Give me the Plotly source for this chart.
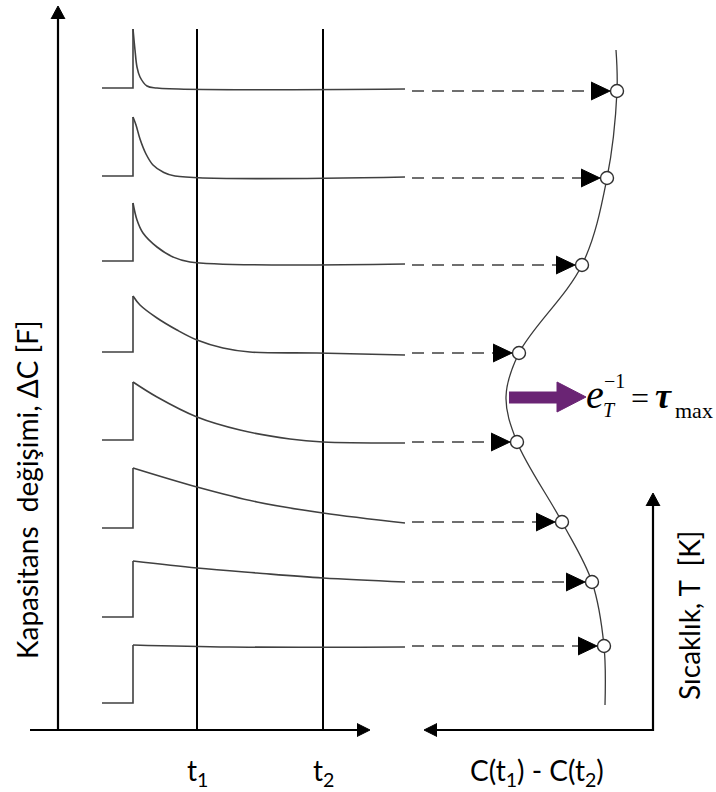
import plotly.graph_objects as go

# ---------------- data (canvas units) ----------------
baselines = [88, 176, 261, 352, 440, 528, 617, 703]      # pre-pulse level of each transient
pulse_start = 102
pulse_time = 133
decay_t = [
    [133, 135, 137, 140, 147, 157, 405],
    [133, 136, 140, 146, 153, 163, 175, 405],
    [133, 137, 143, 157, 173, 190, 405],
    [133, 140, 157, 177, 197, 223, 250, 317, 405],
    [133, 157, 197, 240, 290, 323, 405],
    [133, 197, 257, 323, 405],
    [133, 197, 257, 323, 405],
    [133, 230, 405],
]
decay_c = [
    [29, 50, 67, 77, 86, 88, 89],
    [117, 125, 139, 154, 165, 172, 176, 177],
    [203, 220, 233, 247, 257, 262, 264],
    [296, 305, 318, 330, 340, 348, 352, 353, 355],
    [382, 397, 417, 430, 439, 442, 443],
    [468, 487, 502, 513, 523],
    [561, 568, 573, 578, 582],
    [645, 647, 647],
]
gate_times = [197, 323]
gate_labels = ["t<sub>1</sub>", "t<sub>2</sub>"]
signal_S = [617, 607, 582, 519, 517, 562, 592, 604]      # C(t1)-C(t2) position
signal_T = [91, 178, 265, 353, 442, 522, 582, 646]       # temperature level
peak_S, peak_T = 506, 397
curve_top = (616, 50)
curve_bottom = (605, 705)

# ---------------- styles / geometry ----------------
AX = "#000000"
LN = "#404040"
origin_x, origin_y = 58, 730
right_x = 653
dash_start = 412
circle_r = 6.5
head_len, head_half = 19, 9

fig = go.Figure()

def line(xs, ys, color=LN, width=1.5, shape="linear", dash=None):
    fig.add_trace(go.Scatter(x=xs, y=ys, mode="lines",
                             line=dict(color=color, width=width, shape=shape, dash=dash,
                                       smoothing=1.0 if shape == "spline" else None),
                             hoverinfo="skip"))

def poly(xs, ys, color):
    fig.add_trace(go.Scatter(x=xs, y=ys, mode="lines", fill="toself", fillcolor=color,
                             line=dict(color=color, width=1), hoverinfo="skip"))

# axes (left)
line([origin_x, origin_x], [origin_y, 18], AX, 2.2)
poly([origin_x - 7, origin_x, origin_x + 7], [19, 6, 19], AX)
line([30, 358], [origin_y, origin_y], AX, 2.2)
poly([357, 370, 357], [origin_y - 6.5, origin_y, origin_y + 6.5], AX)
# gate lines
for g in gate_times:
    line([g, g], [29, origin_y], AX, 2.0)
# axes (right)
line([right_x, 436], [origin_y, origin_y], AX, 2.2)
poly([437, 424, 437], [origin_y - 6.5, origin_y, origin_y + 6.5], AX)
line([right_x, right_x], [origin_y + 1, 505], AX, 2.2)
poly([right_x - 7, right_x, right_x + 7], [506, 493, 506], AX)

# transients
for i, b in enumerate(baselines):
    line([pulse_start, pulse_time, pulse_time], [b, b, decay_c[i][0]], LN, 1.6)
    line(decay_t[i], decay_c[i], LN, 1.6, shape="spline")

# DLTS curve
cs = [curve_top[0]] + signal_S[:4] + [peak_S] + signal_S[4:] + [curve_bottom[0]]
ct = [curve_top[1]] + signal_T[:4] + [peak_T] + signal_T[4:] + [curve_bottom[1]]
line(cs, ct, "#3a3a3a", 1.3, shape="spline")

# dashed arrows
for s, t in zip(signal_S, signal_T):
    tip = s - circle_r - 0.5
    line([dash_start, tip - head_len + 2], [t, t], LN, 1.6, dash="12px,8px")
    poly([tip - head_len, tip, tip - head_len], [t - head_half, t, t + head_half], "#000000")

fig.add_trace(go.Scatter(x=signal_S, y=signal_T, mode="markers",
                         marker=dict(size=2 * circle_r, color="white",
                                     line=dict(color="#303030", width=1.4)),
                         hoverinfo="skip"))

# purple arrow
PUR = "#6a2474"
poly([509, 557, 557, 586, 557, 557, 509], [392, 392, 382, 397, 412, 403, 403], PUR)

# ---------------- text ----------------
SANS = "Lato, Carlito, 'Open Sans', sans-serif"
SERIF = "'Liberation Serif', 'DejaVu Serif', serif"
ann = []
def text(x, y, s, size, family=SANS, angle=0, xa="center", ya="middle", color="#000"):
    ann.append(dict(x=x, y=y, xref="x", yref="y", text=s, showarrow=False,
                    font=dict(family=family, size=size, color=color),
                    textangle=angle, xanchor=xa, yanchor=ya))

text(27, 490, "Kapasitans  değişimi, ΔC [F]", 28, angle=-90)
text(689, 616, "Sıcaklık, T  [K]", 28, angle=-90)
for g, lab in zip(gate_times, gate_labels):
    text(g, 772, lab, 28)
text(537, 772, "C(t<sub>1</sub>) - C(t<sub>2</sub>)", 28)

text(595, 394, "<i>e</i>", 40, SERIF)
text(614, 381, "−1", 20, SERIF)
text(609, 410, "<i>T</i>", 20, SERIF)
text(640, 398, "=", 32, SERIF)
text(663, 396, "<b><i>τ</i></b>", 36, SERIF)
text(694, 410, "max", 22, SERIF)

fig.update_layout(
    width=716, height=792, margin=dict(l=0, r=0, t=0, b=0),
    paper_bgcolor="white", plot_bgcolor="white", showlegend=False,
    xaxis=dict(range=[0, 716], visible=False, fixedrange=True),
    yaxis=dict(range=[792, 0], visible=False, fixedrange=True),
    annotations=ann,
)
fig.write_html("out.html")
